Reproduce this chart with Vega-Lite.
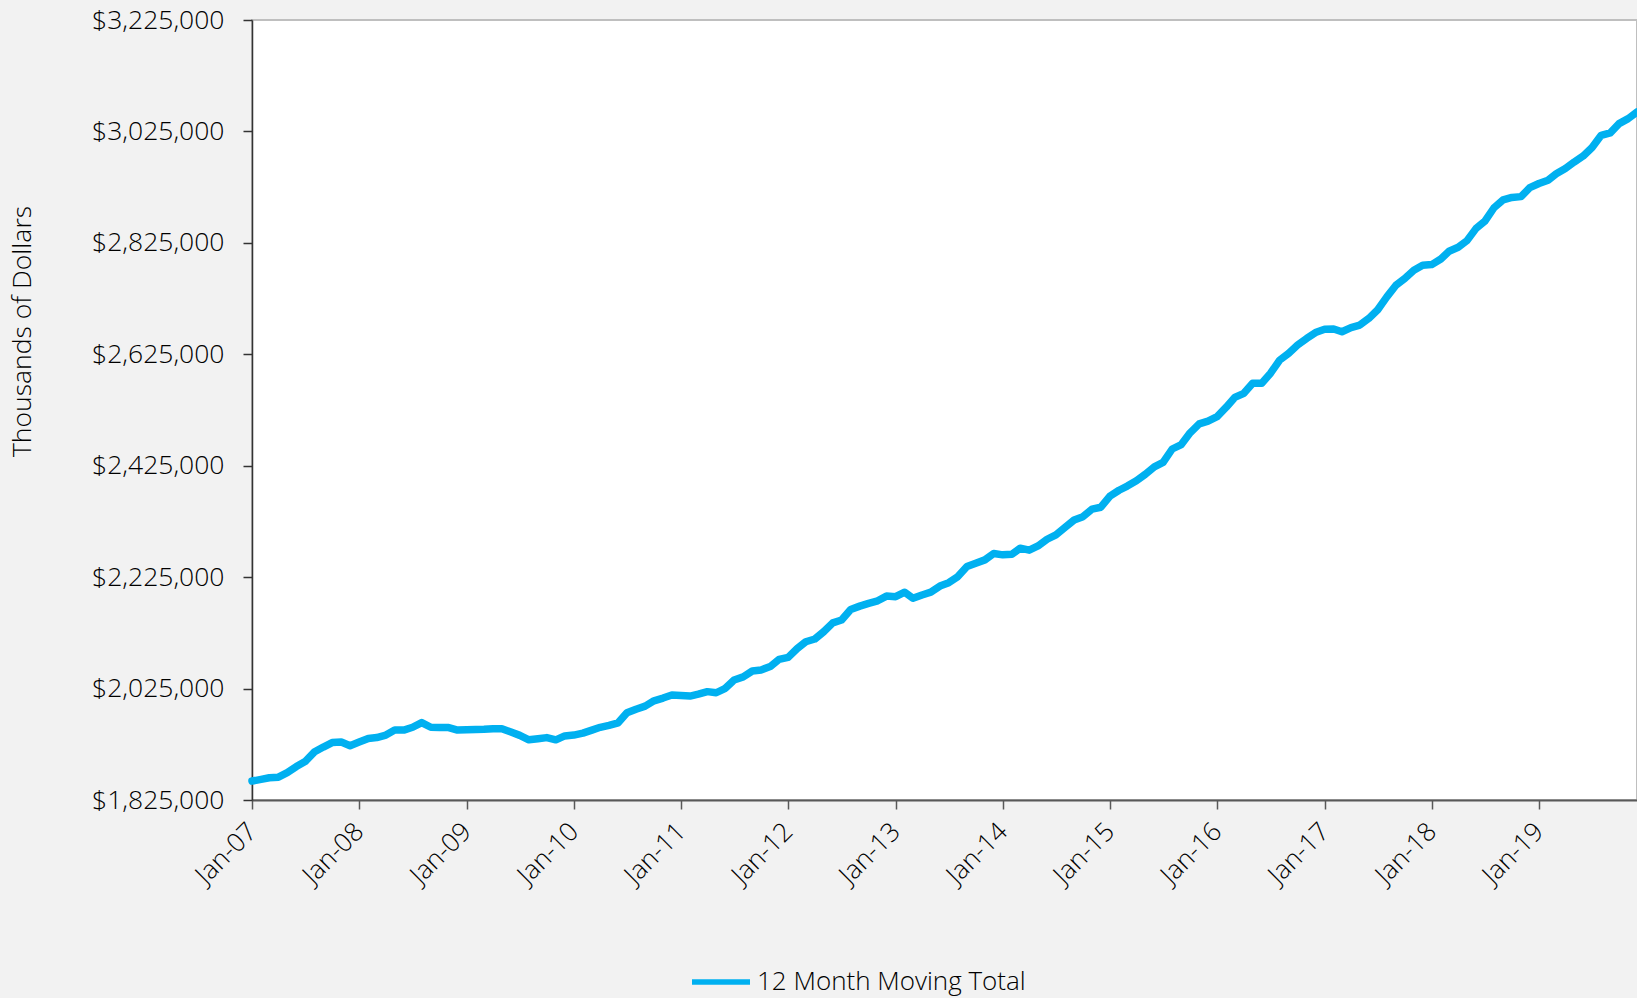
{
  "$schema": "https://vega.github.io/schema/vega-lite/v6.json",
  "width": 1385,
  "height": 780,
  "autosize": {"type": "none"},
  "padding": {"left": 252, "top": 20, "right": 0, "bottom": 198},
  "background": "#f2f2f2",
  "config": {
    "view": {"fill": "white", "stroke": "#bfbfbf", "strokeWidth": 2},
    "font": "Open Sans",
    "axis": {"labelFontWeight": 300, "labelColor": "#000000", "titleColor": "#000000", "titleFontWeight": 300, "grid": false}
  },
  "data": {"values": [
    {"date":"2007-01-01","value":1859000},{"date":"2007-02-01","value":1862000},{"date":"2007-03-01","value":1865000},{"date":"2007-04-01","value":1866000},{"date":"2007-05-01","value":1874000},{"date":"2007-06-01","value":1885000},{"date":"2007-07-01","value":1894000},{"date":"2007-08-01","value":1911000},{"date":"2007-09-01","value":1920000},{"date":"2007-10-01","value":1928000},{"date":"2007-11-01","value":1929000},{"date":"2007-12-01","value":1922500},
    {"date":"2008-01-01","value":1929000},{"date":"2008-02-01","value":1935500},{"date":"2008-03-01","value":1937000},{"date":"2008-04-01","value":1941500},{"date":"2008-05-01","value":1950500},{"date":"2008-06-01","value":1950500},{"date":"2008-07-01","value":1955500},{"date":"2008-08-01","value":1964000},{"date":"2008-09-01","value":1955500},{"date":"2008-10-01","value":1955000},{"date":"2008-11-01","value":1955000},{"date":"2008-12-01","value":1950500},
    {"date":"2009-01-01","value":1951000},{"date":"2009-02-01","value":1951500},{"date":"2009-03-01","value":1952000},{"date":"2009-04-01","value":1953000},{"date":"2009-05-01","value":1953000},{"date":"2009-06-01","value":1947000},{"date":"2009-07-01","value":1941000},{"date":"2009-08-01","value":1933000},{"date":"2009-09-01","value":1935000},{"date":"2009-10-01","value":1937000},{"date":"2009-11-01","value":1933000},{"date":"2009-12-01","value":1940000},
    {"date":"2010-01-01","value":1941500},{"date":"2010-02-01","value":1945000},{"date":"2010-03-01","value":1950000},{"date":"2010-04-01","value":1955500},{"date":"2010-05-01","value":1959000},{"date":"2010-06-01","value":1963500},{"date":"2010-07-01","value":1981500},{"date":"2010-08-01","value":1988000},{"date":"2010-09-01","value":1993500},{"date":"2010-10-01","value":2003000},{"date":"2010-11-01","value":2008000},{"date":"2010-12-01","value":2013500},
    {"date":"2011-01-01","value":2012500},{"date":"2011-02-01","value":2011500},{"date":"2011-03-01","value":2015000},{"date":"2011-04-01","value":2019500},{"date":"2011-05-01","value":2017500},{"date":"2011-06-01","value":2025500},{"date":"2011-07-01","value":2040500},{"date":"2011-08-01","value":2046000},{"date":"2011-09-01","value":2056500},{"date":"2011-10-01","value":2058500},{"date":"2011-11-01","value":2064500},{"date":"2011-12-01","value":2077500},
    {"date":"2012-01-01","value":2081000},{"date":"2012-02-01","value":2097000},{"date":"2012-03-01","value":2109000},{"date":"2012-04-01","value":2114000},{"date":"2012-05-01","value":2127000},{"date":"2012-06-01","value":2143000},{"date":"2012-07-01","value":2148000},{"date":"2012-08-01","value":2167000},{"date":"2012-09-01","value":2173000},{"date":"2012-10-01","value":2178000},{"date":"2012-11-01","value":2182500},{"date":"2012-12-01","value":2191000},
    {"date":"2013-01-01","value":2190000},{"date":"2013-02-01","value":2198000},{"date":"2013-03-01","value":2187000},{"date":"2013-04-01","value":2193000},{"date":"2013-05-01","value":2198000},{"date":"2013-06-01","value":2209000},{"date":"2013-07-01","value":2215000},{"date":"2013-08-01","value":2226000},{"date":"2013-09-01","value":2244000},{"date":"2013-10-01","value":2250000},{"date":"2013-11-01","value":2256000},{"date":"2013-12-01","value":2267500},
    {"date":"2014-01-01","value":2265000},{"date":"2014-02-01","value":2266000},{"date":"2014-03-01","value":2277000},{"date":"2014-04-01","value":2273500},{"date":"2014-05-01","value":2281000},{"date":"2014-06-01","value":2293000},{"date":"2014-07-01","value":2301000},{"date":"2014-08-01","value":2314500},{"date":"2014-09-01","value":2327500},{"date":"2014-10-01","value":2333500},{"date":"2014-11-01","value":2347000},{"date":"2014-12-01","value":2350500},
    {"date":"2015-01-01","value":2370500},{"date":"2015-02-01","value":2381000},{"date":"2015-03-01","value":2388500},{"date":"2015-04-01","value":2398000},{"date":"2015-05-01","value":2409500},{"date":"2015-06-01","value":2423000},{"date":"2015-07-01","value":2431000},{"date":"2015-08-01","value":2455000},{"date":"2015-09-01","value":2463000},{"date":"2015-10-01","value":2484000},{"date":"2015-11-01","value":2500000},{"date":"2015-12-01","value":2505000},
    {"date":"2016-01-01","value":2513000},{"date":"2016-02-01","value":2530000},{"date":"2016-03-01","value":2547500},{"date":"2016-04-01","value":2555000},{"date":"2016-05-01","value":2573000},{"date":"2016-06-01","value":2573000},{"date":"2016-07-01","value":2591000},{"date":"2016-08-01","value":2614500},{"date":"2016-09-01","value":2627000},{"date":"2016-10-01","value":2641500},{"date":"2016-11-01","value":2653500},{"date":"2016-12-01","value":2664000},
    {"date":"2017-01-01","value":2670000},{"date":"2017-02-01","value":2670500},{"date":"2017-03-01","value":2665500},{"date":"2017-04-01","value":2673000},{"date":"2017-05-01","value":2677500},{"date":"2017-06-01","value":2689500},{"date":"2017-07-01","value":2705000},{"date":"2017-08-01","value":2728000},{"date":"2017-09-01","value":2749000},{"date":"2017-10-01","value":2761000},{"date":"2017-11-01","value":2776000},{"date":"2017-12-01","value":2785000},
    {"date":"2018-01-01","value":2786000},{"date":"2018-02-01","value":2796000},{"date":"2018-03-01","value":2810000},{"date":"2018-04-01","value":2817000},{"date":"2018-05-01","value":2829000},{"date":"2018-06-01","value":2851000},{"date":"2018-07-01","value":2864000},{"date":"2018-08-01","value":2888000},{"date":"2018-09-01","value":2902000},{"date":"2018-10-01","value":2906500},{"date":"2018-11-01","value":2908000},{"date":"2018-12-01","value":2924000},
    {"date":"2019-01-01","value":2931500},{"date":"2019-02-01","value":2937500},{"date":"2019-03-01","value":2949000},{"date":"2019-04-01","value":2958500},{"date":"2019-05-01","value":2970000},{"date":"2019-06-01","value":2981000},{"date":"2019-07-01","value":2996000},{"date":"2019-08-01","value":3018000},{"date":"2019-09-01","value":3022500},{"date":"2019-10-01","value":3039000},{"date":"2019-11-01","value":3048000},{"date":"2019-12-01","value":3060000}
  ]},
  "mark": {"type": "line", "strokeWidth": 7.5, "strokeCap": "round", "strokeJoin": "round"},
  "encoding": {
    "x": {
      "field": "date", "type": "temporal",
      "scale": {"type": "utc", "domain": [{"year": 2007, "month": 1, "date": 1, "utc": true}, {"year": 2019, "month": 12, "date": 1, "utc": true}], "nice": false},
      "axis": {
        "title": null, "format": "%b-%y",
        "values": [
          {"year": 2007, "month": 1, "date": 1, "utc": true},{"year": 2008, "month": 1, "date": 1, "utc": true},{"year": 2009, "month": 1, "date": 1, "utc": true},{"year": 2010, "month": 1, "date": 1, "utc": true},{"year": 2011, "month": 1, "date": 1, "utc": true},{"year": 2012, "month": 1, "date": 1, "utc": true},{"year": 2013, "month": 1, "date": 1, "utc": true},{"year": 2014, "month": 1, "date": 1, "utc": true},{"year": 2015, "month": 1, "date": 1, "utc": true},{"year": 2016, "month": 1, "date": 1, "utc": true},{"year": 2017, "month": 1, "date": 1, "utc": true},{"year": 2018, "month": 1, "date": 1, "utc": true},{"year": 2019, "month": 1, "date": 1, "utc": true}
        ],
        "labelAngle": -45, "labelAlign": "right", "labelBaseline": "middle", "labelPadding": 18,
        "labelFontSize": 26, "labelFlush": false, "labelOverlap": false,
        "domainColor": "#595959", "domainWidth": 2, "tickColor": "#595959", "tickSize": 9, "tickWidth": 1.5
      }
    },
    "y": {
      "field": "value", "type": "quantitative",
      "scale": {"domain": [1825000, 3225000], "nice": false, "zero": false},
      "axis": {
        "title": "Thousands of Dollars", "titleFontSize": 26.5, "titleX": -230, "titleY": 311, "titleAngle": -90, "titleAlign": "center", "titleBaseline": "middle",
        "values": [1825000, 2025000, 2225000, 2425000, 2625000, 2825000, 3025000, 3225000],
        "format": "$,.0f", "labelFontSize": 26.5, "labelPadding": 19, "labelFlush": false, "labelOverlap": false,
        "domainColor": "#333333", "domainWidth": 1.5, "tickColor": "#333333", "tickSize": 9, "tickWidth": 1.5
      }
    },
    "color": {
      "datum": "12 Month Moving Total",
      "scale": {"range": ["#00b0f0"]},
      "legend": {
        "title": null, "orient": "none", "legendX": 437, "legendY": 930, "padding": 0,
        "symbolType": "stroke", "symbolSize": 3364, "symbolStrokeWidth": 5.5,
        "labelFontSize": 26, "labelFont": "Open Sans", "labelFontWeight": 300, "labelColor": "#000000", "labelOffset": 4, "labelLimit": 0
      }
    }
  }
}
